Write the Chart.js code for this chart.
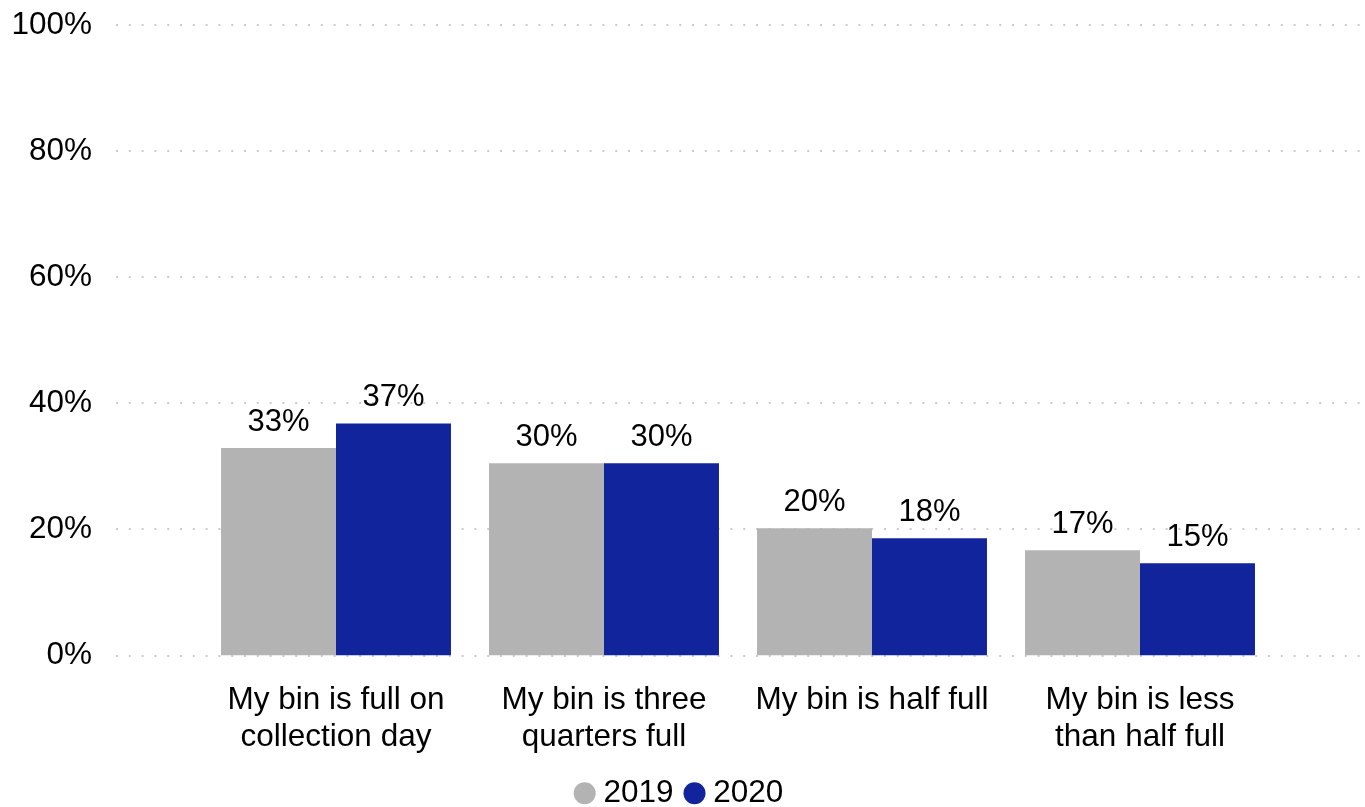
<!DOCTYPE html>
<html>
<head>
<meta charset="utf-8">
<script src="https://cdn.jsdelivr.net/npm/chart.js@4"></script>
<style>
  html, body { margin: 0; padding: 0; background: #fff; }
  #wrap { width: 1365px; height: 807px; }
</style>
</head>
<body>
<div id="wrap"><canvas id="binChart"></canvas></div>
<script>
const categories = [
  ['My bin is full on', 'collection day'],
  ['My bin is three', 'quarters full'],
  'My bin is half full',
  ['My bin is less', 'than half full']
];
const seriesNames = ['2019', '2020'];
const values2019 = [32.9, 30.5, 20.2, 16.7];
const values2020 = [36.8, 30.5, 18.6, 14.65];
const shown2019 = ['33%', '30%', '20%', '17%'];
const shown2020 = ['37%', '30%', '18%', '15%'];
const yTicks = [0, 20, 40, 60, 80, 100];

const FONT = "'Liberation Sans', Arial, sans-serif";
const GREY = '#b3b3b3';
const BLUE = '#11249b';

// dotted grid lines run wider than the bars, so draw them by hand
const dottedGrid = {
  id: 'dottedGrid',
  beforeDatasetsDraw(chart) {
    const { ctx, scales: { y } } = chart;
    ctx.save();
    ctx.strokeStyle = '#cccccc';
    ctx.lineWidth = 2;
    ctx.setLineDash([2, 10.8]);
    y.ticks.forEach(t => {
      const py = Math.round(y.getPixelForValue(t.value));
      ctx.beginPath();
      ctx.moveTo(116, py);
      ctx.lineTo(chart.width - 2, py);
      ctx.stroke();
    });
    ctx.restore();
  }
};

const valueLabels = {
  id: 'valueLabels',
  afterDatasetsDraw(chart) {
    const { ctx } = chart;
    const texts = [shown2019, shown2020];
    ctx.save();
    ctx.font = '31px ' + FONT;
    ctx.fillStyle = '#000';
    ctx.textAlign = 'center';
    ctx.textBaseline = 'alphabetic';
    chart.data.datasets.forEach((ds, i) => {
      chart.getDatasetMeta(i).data.forEach((bar, j) => {
        ctx.fillText(texts[i][j], bar.x, bar.y - 17);
      });
    });
    ctx.restore();
  }
};

new Chart(document.getElementById('binChart'), {
  type: 'bar',
  data: {
    labels: categories,
    datasets: [
      { label: seriesNames[0], data: values2019, backgroundColor: GREY },
      { label: seriesNames[1], data: values2020, backgroundColor: BLUE }
    ]
  },
  options: {
    responsive: true,
    maintainAspectRatio: false,
    animation: false,
    layout: { padding: { top: 25, left: 0, right: 0, bottom: -12 } },
    datasets: { bar: { categoryPercentage: 0.858, barPercentage: 1 } },
    plugins: {
      tooltip: { enabled: false },
      legend: {
        position: 'bottom',
        labels: {
          usePointStyle: true,
          pointStyle: 'circle',
          boxHeight: 15.6,
          boxWidth: 6,
          padding: 18,
          color: '#000',
          font: { family: FONT, size: 31.5 }
        }
      }
    },
    scales: {
      x: {
        grid: { display: false, drawTicks: false },
        border: { display: false },
        ticks: {
          color: '#000',
          padding: 27,
          maxRotation: 0,
          font: { family: FONT, size: 31.5, lineHeight: 1.15 }
        },
        afterFit: s => { s.height = 104; }
      },
      y: {
        min: 0,
        max: 100,
        afterBuildTicks: s => { s.ticks = yTicks.map(v => ({ value: v })); },
        grid: { display: false, drawTicks: false },
        border: { display: false },
        ticks: {
          color: '#000',
          padding: 110,
          callback: v => v + '%',
          font: { family: FONT, size: 31.5 }
        },
        afterFit: s => {
          s.width = 202;
          s.paddingTop = 18;
          s.paddingBottom = 18;
        }
      },
      // empty right-hand spacer so the legend stays centred on the page
      spacer: {
        position: 'right',
        min: 0,
        max: 100,
        grid: { display: false, drawTicks: false },
        border: { display: false },
        ticks: { display: false },
        afterFit: s => {
          s.width = 91;
          s.paddingTop = 0;
          s.paddingBottom = 0;
        }
      }
    }
  },
  plugins: [dottedGrid, valueLabels]
});
</script>
</body>
</html>
